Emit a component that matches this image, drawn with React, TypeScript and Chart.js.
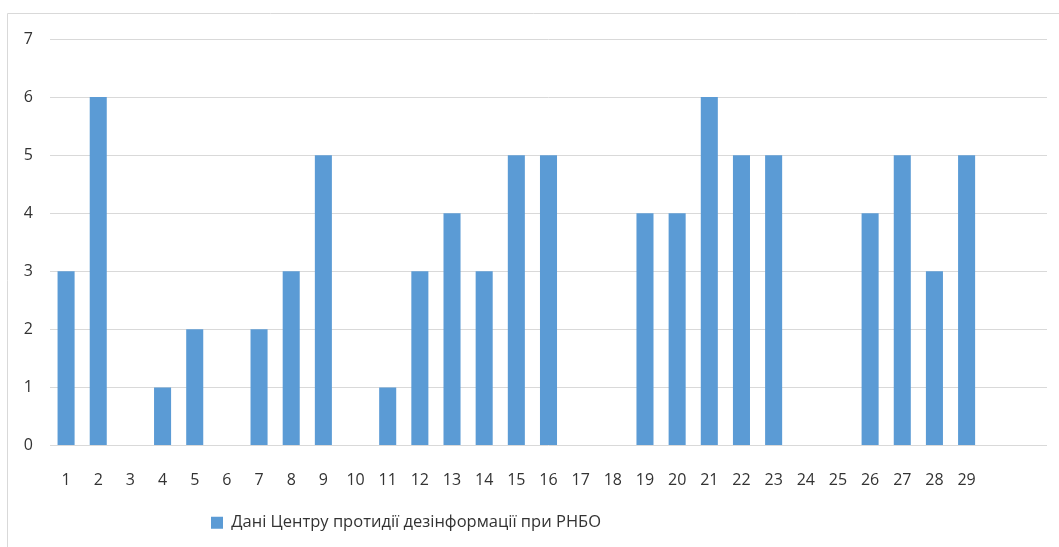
import React, { useEffect, useRef } from "react";
import { Chart, registerables } from "chart.js";

Chart.register(...registerables);

const categories: string[] = [
  "1", "2", "3", "4", "5", "6", "7", "8", "9", "10",
  "11", "12", "13", "14", "15", "16", "17", "18", "19", "20",
  "21", "22", "23", "24", "25", "26", "27", "28", "29", "", "",
];

const seriesValues: (number | null)[] = [
  3, 6, 0, 1, 2, 0, 2, 3, 5, 0,
  1, 3, 4, 3, 5, 5, 0, 0, 4, 4,
  6, 5, 5, 0, 0, 4, 5, 3, 5, null, null,
];

const seriesName = "Дані Центру протидії дезінформації при РНБО";
const yTicks: number[] = [0, 1, 2, 3, 4, 5, 6, 7];

const FONT = "'Open Sans', 'Noto Sans', sans-serif";

const framePlugin = {
  id: "frame",
  beforeDraw(chart: any) {
    const ctx = chart.ctx;
    ctx.save();
    ctx.strokeStyle = "#d9d9d9";
    ctx.lineWidth = 1;
    ctx.beginPath();
    ctx.moveTo(7.5, chart.height);
    ctx.lineTo(7.5, 13.5);
    ctx.lineTo(chart.width, 13.5);
    ctx.stroke();
    ctx.restore();
  },
  afterLayout(chart: any) {
    const lg = chart.legend;
    if (lg) {
      const w = lg.right - lg.left;
      lg.left = 201;
      lg.right = 201 + w;
    }
  },
};

export default function App() {
  const ref = useRef<HTMLCanvasElement | null>(null);
  useEffect(() => {
    if (!ref.current) return;
    const chart = new Chart(ref.current, {
      type: "bar",
      data: {
        labels: categories,
        datasets: [
          {
            label: seriesName,
            data: seriesValues,
            backgroundColor: "#5b9bd5",
            borderWidth: 0,
            categoryPercentage: 1,
            barPercentage: 0.53,
          },
        ],
      },
      options: {
        responsive: false,
        animation: false,
        maintainAspectRatio: false,
        layout: { padding: { left: 0, right: 12, top: 39, bottom: 6 } },
        plugins: {
          tooltip: { enabled: false },
          legend: {
            position: "bottom",
            align: "start",
            labels: {
              boxWidth: 12,
              boxHeight: 12,
              padding: 10,
              color: "#333333",
              font: { family: FONT, size: 16.5 },
            },
          },
        },
        scales: {
          x: {
            grid: { display: false },
            border: { display: false },
            ticks: {
              color: "#333333",
              font: { family: FONT, size: 16 },
              padding: 17,
              maxRotation: 0,
              autoSkip: false,
            },
            afterFit: (s: any) => {
              s.height = 59;
            },
          },
          y: {
            min: 0,
            max: 7,
            afterBuildTicks: (s: any) => {
              s.ticks = yTicks.map((v) => ({ value: v }));
            },
            grid: { color: "#d9d9d9", lineWidth: 1, drawTicks: false },
            border: { display: false },
            ticks: {
              color: "#333333",
              font: { family: FONT, size: 16 },
              padding: 17,
            },
            afterFit: (s: any) => {
              s.width = 50;
            },
          },
        },
      },
      plugins: [framePlugin],
    });
    return () => chart.destroy();
  }, []);
  return (
    <div style={{ position: "fixed", left: 0, top: 0, width: 1059, height: 547, background: "#fff" }}>
      <canvas ref={ref} width={1059} height={547} style={{ display: "block" }} />
    </div>
  );
}
